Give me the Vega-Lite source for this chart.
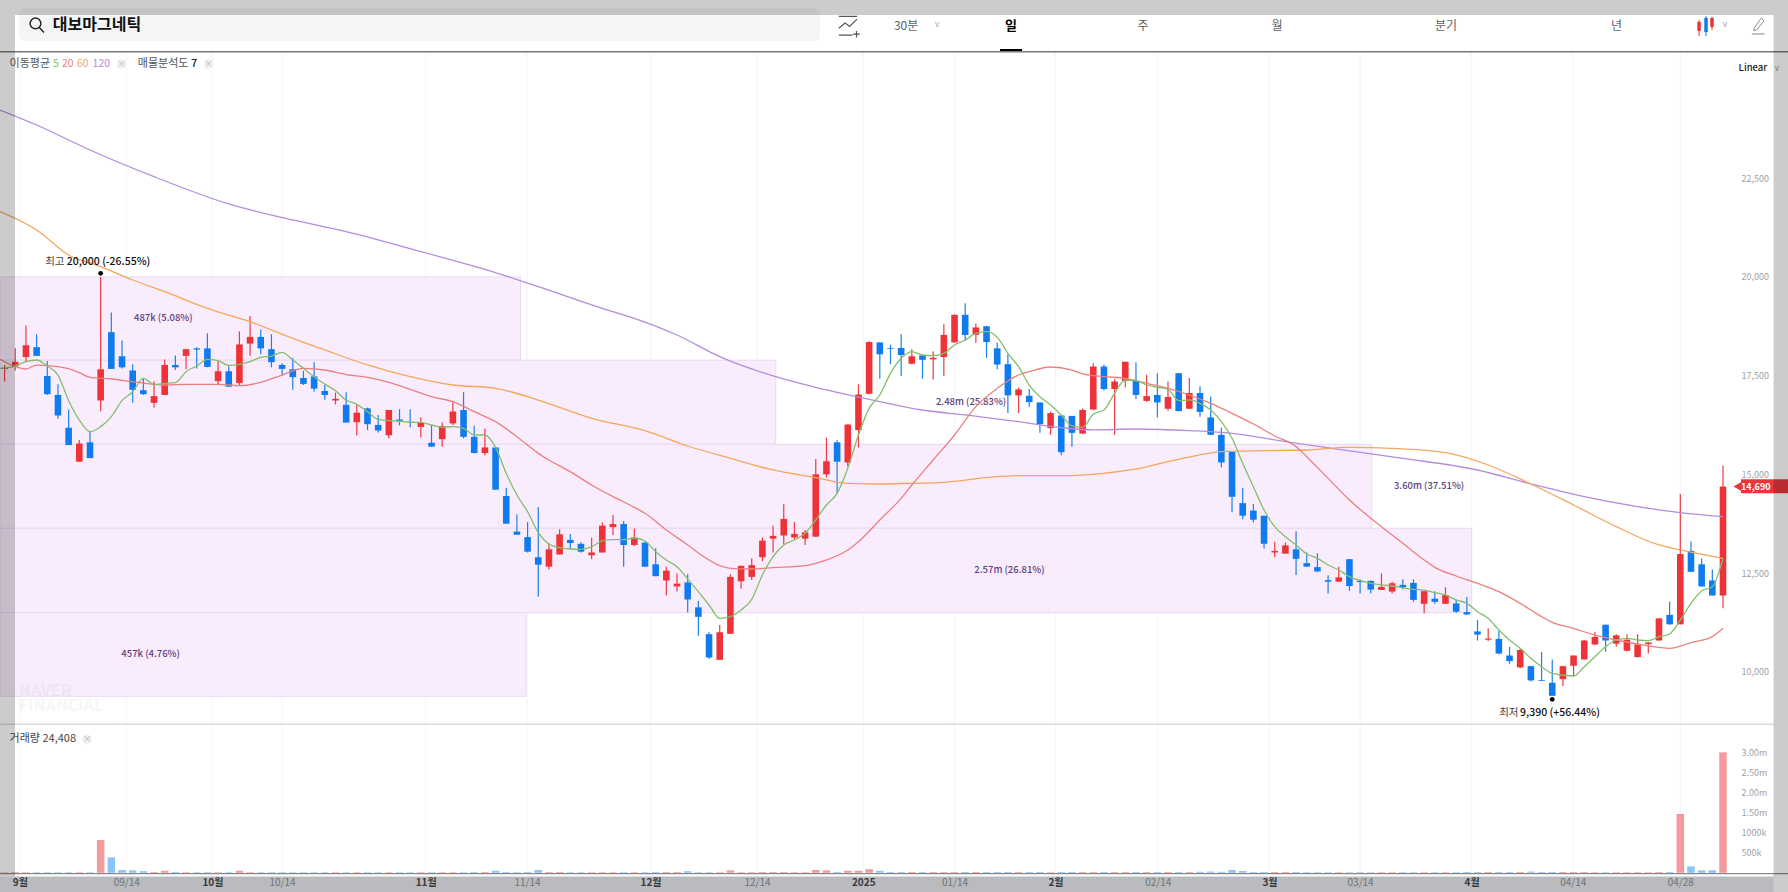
{
"$schema":"https://vega.github.io/schema/vega-lite/v6.json",
"width":1788,"height":892,"padding":0,"autosize":{"type":"none"},
"background":"#ffffff",
"config":{"font":"Noto Sans CJK KR","view":{"stroke":null}},
"datasets":{
"candles":[
{"i":0,"open":17670,"close":17700,"high":17770,"low":17350,"vol":15000},
{"i":1,"open":17730,"close":17850,"high":18190,"low":17630,"vol":20000},
{"i":2,"open":17970,"close":18270,"high":18770,"low":17850,"vol":15000},
{"i":3,"open":18220,"close":18000,"high":18550,"low":18000,"vol":15000},
{"i":4,"open":17490,"close":17030,"high":17870,"low":17010,"vol":15000},
{"i":5,"open":17010,"close":16490,"high":17280,"low":16410,"vol":15000},
{"i":6,"open":16180,"close":15740,"high":16640,"low":15740,"vol":15000},
{"i":7,"open":15320,"close":15780,"high":15870,"low":15320,"vol":15000},
{"i":8,"open":15810,"close":15410,"high":16080,"low":15410,"vol":15000},
{"i":9,"open":16870,"close":17660,"high":20000,"low":16600,"vol":817000},
{"i":10,"open":18600,"close":17670,"high":19100,"low":17670,"vol":385000},
{"i":11,"open":17990,"close":17710,"high":18390,"low":17680,"vol":70000},
{"i":12,"open":17630,"close":17140,"high":17790,"low":16810,"vol":60000},
{"i":13,"open":17130,"close":17030,"high":17430,"low":17010,"vol":40000},
{"i":14,"open":16810,"close":16980,"high":17360,"low":16690,"vol":20000},
{"i":15,"open":17010,"close":17770,"high":17910,"low":17010,"vol":50000},
{"i":16,"open":17770,"close":17710,"high":18010,"low":17640,"vol":20000},
{"i":17,"open":18000,"close":18170,"high":18170,"low":17660,"vol":15000},
{"i":18,"open":18190,"close":18160,"high":18220,"low":17680,"vol":15000},
{"i":19,"open":18190,"close":17720,"high":18570,"low":17710,"vol":15000},
{"i":20,"open":17360,"close":17610,"high":17870,"low":17290,"vol":15000},
{"i":21,"open":17610,"close":17220,"high":17740,"low":17220,"vol":15000},
{"i":22,"open":17310,"close":18290,"high":18620,"low":17250,"vol":50000},
{"i":23,"open":18310,"close":18480,"high":19010,"low":18000,"vol":15000},
{"i":24,"open":18480,"close":18190,"high":18670,"low":18040,"vol":15000},
{"i":25,"open":18170,"close":17840,"high":18550,"low":17710,"vol":15000},
{"i":26,"open":17770,"close":17670,"high":17810,"low":17500,"vol":15000},
{"i":27,"open":17660,"close":17460,"high":17950,"low":17140,"vol":15000},
{"i":28,"open":17440,"close":17290,"high":17620,"low":17260,"vol":15000},
{"i":29,"open":17480,"close":17170,"high":17840,"low":17090,"vol":15000},
{"i":30,"open":17110,"close":17010,"high":17260,"low":16890,"vol":15000},
{"i":31,"open":16870,"close":16910,"high":17070,"low":16770,"vol":15000},
{"i":32,"open":16760,"close":16310,"high":17080,"low":16310,"vol":15000},
{"i":33,"open":16320,"close":16560,"high":16770,"low":15980,"vol":15000},
{"i":34,"open":16670,"close":16270,"high":16690,"low":16120,"vol":15000},
{"i":35,"open":16250,"close":16110,"high":16500,"low":16060,"vol":15000},
{"i":36,"open":15990,"close":16630,"high":16630,"low":15910,"vol":15000},
{"i":37,"open":16390,"close":16340,"high":16650,"low":16240,"vol":15000},
{"i":38,"open":16330,"close":16310,"high":16650,"low":16190,"vol":15000},
{"i":39,"open":16200,"close":16300,"high":16440,"low":15930,"vol":15000},
{"i":40,"open":15800,"close":15700,"high":16250,"low":15700,"vol":15000},
{"i":41,"open":15890,"close":16220,"high":16320,"low":15700,"vol":15000},
{"i":42,"open":16290,"close":16590,"high":16840,"low":16250,"vol":15000},
{"i":43,"open":16630,"close":15950,"high":17080,"low":15910,"vol":15000},
{"i":44,"open":15950,"close":15540,"high":16230,"low":15530,"vol":20000},
{"i":45,"open":15540,"close":15680,"high":16160,"low":15480,"vol":20000},
{"i":46,"open":15680,"close":14610,"high":15680,"low":14610,"vol":50000},
{"i":47,"open":14450,"close":13750,"high":14650,"low":13750,"vol":20000},
{"i":48,"open":13550,"close":13470,"high":13990,"low":13470,"vol":15000},
{"i":49,"open":13410,"close":13040,"high":13790,"low":13020,"vol":20000},
{"i":50,"open":12900,"close":12710,"high":14170,"low":11900,"vol":70000},
{"i":51,"open":12660,"close":13100,"high":13250,"low":12590,"vol":20000},
{"i":52,"open":12970,"close":13480,"high":13610,"low":12970,"vol":20000},
{"i":53,"open":13340,"close":13260,"high":13490,"low":13110,"vol":15000},
{"i":54,"open":13240,"close":13040,"high":13280,"low":13020,"vol":15000},
{"i":55,"open":12950,"close":13020,"high":13390,"low":12850,"vol":15000},
{"i":56,"open":13020,"close":13700,"high":13780,"low":13020,"vol":15000},
{"i":57,"open":13660,"close":13740,"high":13970,"low":13460,"vol":15000},
{"i":58,"open":13740,"close":13210,"high":13820,"low":12660,"vol":15000},
{"i":59,"open":13210,"close":13400,"high":13630,"low":13180,"vol":15000},
{"i":60,"open":13270,"close":12660,"high":13280,"low":12660,"vol":15000},
{"i":61,"open":12720,"close":12420,"high":13130,"low":12420,"vol":20000},
{"i":62,"open":12310,"close":12560,"high":12660,"low":11930,"vol":20000},
{"i":63,"open":12160,"close":12230,"high":12490,"low":12030,"vol":20000},
{"i":64,"open":12260,"close":11830,"high":12470,"low":11500,"vol":40000},
{"i":65,"open":11630,"close":11390,"high":11790,"low":10910,"vol":15000},
{"i":66,"open":10950,"close":10360,"high":11000,"low":10320,"vol":15000},
{"i":67,"open":10300,"close":11000,"high":11180,"low":10300,"vol":15000},
{"i":68,"open":10960,"close":12400,"high":12470,"low":10960,"vol":60000},
{"i":69,"open":12290,"close":12680,"high":12690,"low":12100,"vol":15000},
{"i":70,"open":12400,"close":12700,"high":12870,"low":12320,"vol":15000},
{"i":71,"open":12900,"close":13320,"high":13400,"low":12800,"vol":20000},
{"i":72,"open":13370,"close":13440,"high":13700,"low":13020,"vol":20000},
{"i":73,"open":13450,"close":13870,"high":14240,"low":13230,"vol":20000},
{"i":74,"open":13400,"close":13490,"high":13790,"low":13350,"vol":15000},
{"i":75,"open":13370,"close":13530,"high":13590,"low":13210,"vol":15000},
{"i":76,"open":13420,"close":15000,"high":15390,"low":13420,"vol":70000},
{"i":77,"open":15000,"close":15330,"high":15930,"low":14920,"vol":60000},
{"i":78,"open":15810,"close":15320,"high":15860,"low":14520,"vol":20000},
{"i":79,"open":15300,"close":16260,"high":16280,"low":15190,"vol":50000},
{"i":80,"open":16120,"close":17020,"high":17280,"low":15680,"vol":50000},
{"i":81,"open":17040,"close":18350,"high":18370,"low":17030,"vol":90000},
{"i":82,"open":18340,"close":18040,"high":18350,"low":17420,"vol":50000},
{"i":83,"open":18200,"close":18180,"high":18280,"low":17790,"vol":20000},
{"i":84,"open":18200,"close":18020,"high":18550,"low":17490,"vol":20000},
{"i":85,"open":17800,"close":17990,"high":18170,"low":17790,"vol":20000},
{"i":86,"open":18010,"close":17900,"high":18020,"low":17420,"vol":20000},
{"i":87,"open":17910,"close":17950,"high":18120,"low":17400,"vol":20000},
{"i":88,"open":17970,"close":18530,"high":18800,"low":17490,"vol":20000},
{"i":89,"open":18340,"close":19040,"high":19050,"low":18340,"vol":20000},
{"i":90,"open":19040,"close":18530,"high":19330,"low":18380,"vol":20000},
{"i":91,"open":18530,"close":18720,"high":18820,"low":18330,"vol":20000},
{"i":92,"open":18750,"close":18350,"high":18760,"low":17950,"vol":20000},
{"i":93,"open":18190,"close":17780,"high":18340,"low":17660,"vol":20000},
{"i":94,"open":17790,"close":17000,"high":18040,"low":16550,"vol":20000},
{"i":95,"open":17000,"close":17150,"high":17200,"low":16550,"vol":20000},
{"i":96,"open":16990,"close":16830,"high":17160,"low":16710,"vol":20000},
{"i":97,"open":16820,"close":16270,"high":16820,"low":16050,"vol":20000},
{"i":98,"open":16170,"close":16550,"high":16590,"low":16000,"vol":15000},
{"i":99,"open":16490,"close":15560,"high":16490,"low":15480,"vol":20000},
{"i":100,"open":16480,"close":16050,"high":16480,"low":15700,"vol":20000},
{"i":101,"open":16030,"close":16630,"high":16670,"low":16030,"vol":20000},
{"i":102,"open":16640,"close":17730,"high":17810,"low":16640,"vol":20000},
{"i":103,"open":17730,"close":17160,"high":17780,"low":17120,"vol":20000},
{"i":104,"open":17160,"close":17350,"high":17410,"low":16000,"vol":20000},
{"i":105,"open":17360,"close":17850,"high":17850,"low":17200,"vol":20000},
{"i":106,"open":17370,"close":17010,"high":17840,"low":16910,"vol":20000},
{"i":107,"open":16860,"close":16980,"high":17520,"low":16840,"vol":20000},
{"i":108,"open":17010,"close":16820,"high":17560,"low":16440,"vol":20000},
{"i":109,"open":16660,"close":16960,"high":17350,"low":16610,"vol":20000},
{"i":110,"open":17560,"close":16600,"high":17560,"low":16600,"vol":20000},
{"i":111,"open":16660,"close":17060,"high":17440,"low":16660,"vol":20000},
{"i":112,"open":17060,"close":16580,"high":17230,"low":16460,"vol":25000},
{"i":113,"open":16440,"close":16000,"high":16970,"low":16000,"vol":30000},
{"i":114,"open":16000,"close":15300,"high":16180,"low":15180,"vol":25000},
{"i":115,"open":15570,"close":14430,"high":15570,"low":14040,"vol":70000},
{"i":116,"open":14270,"close":13950,"high":14650,"low":13860,"vol":45000},
{"i":117,"open":14080,"close":13850,"high":14250,"low":13780,"vol":20000},
{"i":118,"open":13950,"close":13240,"high":13950,"low":13120,"vol":20000},
{"i":119,"open":13020,"close":13060,"high":13290,"low":12900,"vol":20000},
{"i":120,"open":12990,"close":13200,"high":13270,"low":12990,"vol":20000},
{"i":121,"open":13100,"close":12860,"high":13560,"low":12450,"vol":20000},
{"i":122,"open":12750,"close":12660,"high":13020,"low":12660,"vol":15000},
{"i":123,"open":12650,"close":12540,"high":13000,"low":12520,"vol":15000},
{"i":124,"open":12320,"close":12280,"high":12440,"low":11980,"vol":15000},
{"i":125,"open":12280,"close":12390,"high":12660,"low":12280,"vol":15000},
{"i":126,"open":12850,"close":12170,"high":12850,"low":12050,"vol":15000},
{"i":127,"open":12300,"close":12270,"high":12340,"low":11980,"vol":15000},
{"i":128,"open":12300,"close":12080,"high":12310,"low":11980,"vol":15000},
{"i":129,"open":12070,"close":12150,"high":12490,"low":12070,"vol":15000},
{"i":130,"open":12030,"close":12240,"high":12280,"low":11980,"vol":15000},
{"i":131,"open":12200,"close":12140,"high":12340,"low":12090,"vol":15000},
{"i":132,"open":12250,"close":11820,"high":12340,"low":11770,"vol":15000},
{"i":133,"open":11720,"close":12040,"high":12040,"low":11480,"vol":15000},
{"i":134,"open":11850,"close":11770,"high":12040,"low":11720,"vol":15000},
{"i":135,"open":11720,"close":11940,"high":12140,"low":11720,"vol":15000},
{"i":136,"open":11730,"close":11520,"high":11830,"low":11490,"vol":15000},
{"i":137,"open":11510,"close":11450,"high":11890,"low":11440,"vol":20000},
{"i":138,"open":11020,"close":10940,"high":11310,"low":10790,"vol":20000},
{"i":139,"open":10810,"close":10840,"high":11100,"low":10780,"vol":20000},
{"i":140,"open":10830,"close":10460,"high":11040,"low":10440,"vol":20000},
{"i":141,"open":10410,"close":10270,"high":10630,"low":10200,"vol":20000},
{"i":142,"open":10110,"close":10550,"high":10590,"low":10090,"vol":20000},
{"i":143,"open":10140,"close":9780,"high":10150,"low":9750,"vol":30000},
{"i":144,"open":9790,"close":9770,"high":10500,"low":9770,"vol":20000},
{"i":145,"open":9720,"close":9390,"high":10310,"low":9390,"vol":20000},
{"i":146,"open":9810,"close":10140,"high":10150,"low":9640,"vol":20000},
{"i":147,"open":10150,"close":10410,"high":10410,"low":9890,"vol":20000},
{"i":148,"open":10310,"close":10790,"high":10800,"low":10310,"vol":20000},
{"i":149,"open":10690,"close":10880,"high":11010,"low":10670,"vol":15000},
{"i":150,"open":11190,"close":10790,"high":11190,"low":10510,"vol":15000},
{"i":151,"open":10710,"close":10920,"high":10950,"low":10630,"vol":15000},
{"i":152,"open":10530,"close":10810,"high":10950,"low":10520,"vol":15000},
{"i":153,"open":10370,"close":10690,"high":10950,"low":10360,"vol":15000},
{"i":154,"open":10700,"close":10740,"high":10740,"low":10460,"vol":15000},
{"i":155,"open":10790,"close":11350,"high":11360,"low":10790,"vol":20000},
{"i":156,"open":11440,"close":11200,"high":11780,"low":11190,"vol":20000},
{"i":157,"open":11200,"close":12980,"high":14500,"low":11200,"vol":1464000},
{"i":158,"open":13060,"close":12530,"high":13300,"low":12530,"vol":161000},
{"i":159,"open":12720,"close":12160,"high":12870,"low":12160,"vol":62000},
{"i":160,"open":12310,"close":11930,"high":12590,"low":11930,"vol":62000},
{"i":161,"open":11930,"close":14690,"high":15220,"low":11610,"vol":3000000}
],
"ma":[
{"i":-0.43,"ma":"120","p":24228},{"i":3,"ma":"120","p":23848},{"i":8,"ma":"120","p":23215},{"i":14,"ma":"120","p":22539},{"i":21,"ma":"120","p":21847},{"i":27,"ma":"120","p":21442},{"i":32,"ma":"120","p":21146},{"i":39,"ma":"120","p":20640},{"i":45,"ma":"120","p":20192},{"i":50,"ma":"120","p":19753},{"i":56,"ma":"120","p":19204},{"i":59,"ma":"120","p":18951},{"i":63,"ma":"120","p":18529},{"i":67,"ma":"120","p":17980},{"i":72,"ma":"120","p":17491},{"i":77,"ma":"120","p":17136},{"i":82,"ma":"120","p":16840},{"i":86,"ma":"120","p":16629},{"i":90,"ma":"120","p":16503},{"i":95,"ma":"120","p":16334},{"i":99,"ma":"120","p":16182},{"i":102,"ma":"120","p":16123},{"i":106,"ma":"120","p":16148},{"i":111,"ma":"120","p":16106},{"i":115,"ma":"120","p":16038},{"i":120,"ma":"120","p":15827},{"i":125,"ma":"120","p":15633},{"i":131,"ma":"120","p":15405},{"i":138,"ma":"120","p":15109},{"i":143,"ma":"120","p":14755},{"i":148,"ma":"120","p":14434},{"i":153,"ma":"120","p":14181},{"i":157,"ma":"120","p":14029},{"i":161,"ma":"120","p":13927},
{"i":-0.43,"ma":"60","p":21653},{"i":3,"ma":"60","p":21188},{"i":6,"ma":"60","p":20555},{"i":9,"ma":"60","p":20260},{"i":12,"ma":"60","p":19922},{"i":15,"ma":"60","p":19626},{"i":19,"ma":"60","p":19204},{"i":23,"ma":"60","p":18866},{"i":27,"ma":"60","p":18444},{"i":30,"ma":"60","p":18149},{"i":34,"ma":"60","p":17769},{"i":38,"ma":"60","p":17473},{"i":42,"ma":"60","p":17262},{"i":46,"ma":"60","p":17178},{"i":50,"ma":"60","p":16882},{"i":55,"ma":"60","p":16418},{"i":60,"ma":"60","p":16106},{"i":64,"ma":"60","p":15717},{"i":68,"ma":"60","p":15405},{"i":72,"ma":"60","p":15110},{"i":76,"ma":"60","p":14915},{"i":79,"ma":"60","p":14772},{"i":82,"ma":"60","p":14755},{"i":85,"ma":"60","p":14772},{"i":88,"ma":"60","p":14797},{"i":92,"ma":"60","p":14915},{"i":95,"ma":"60","p":14966},{"i":99,"ma":"60","p":14966},{"i":103,"ma":"60","p":15025},{"i":106,"ma":"60","p":15135},{"i":109,"ma":"60","p":15321},{"i":112,"ma":"60","p":15490},{"i":114,"ma":"60","p":15574},{"i":118,"ma":"60","p":15599},{"i":122,"ma":"60","p":15616},{"i":126,"ma":"60","p":15684},{"i":130,"ma":"60","p":15658},{"i":135,"ma":"60","p":15548},{"i":139,"ma":"60","p":15236},{"i":143,"ma":"60","p":14755},{"i":147,"ma":"60","p":14223},{"i":151,"ma":"60","p":13674},{"i":155,"ma":"60","p":13210},{"i":157,"ma":"60","p":13083},{"i":161,"ma":"60","p":12872},
{"i":-0.43,"ma":"20","p":17912},{"i":1,"ma":"20","p":17726},{"i":2,"ma":"20","p":17667},{"i":3,"ma":"20","p":17768},{"i":5,"ma":"20","p":17726},{"i":6,"ma":"20","p":17676},{"i":7,"ma":"20","p":17574},{"i":8,"ma":"20","p":17456},{"i":10,"ma":"20","p":17414},{"i":12,"ma":"20","p":17346},{"i":15,"ma":"20","p":17262},{"i":17,"ma":"20","p":17279},{"i":20,"ma":"20","p":17279},{"i":22,"ma":"20","p":17245},{"i":24,"ma":"20","p":17329},{"i":26,"ma":"20","p":17515},{"i":28,"ma":"20","p":17684},{"i":30,"ma":"20","p":17642},{"i":32,"ma":"20","p":17525},{"i":34,"ma":"20","p":17456},{"i":36,"ma":"20","p":17330},{"i":38,"ma":"20","p":17152},{"i":40,"ma":"20","p":16967},{"i":42,"ma":"20","p":16840},{"i":44,"ma":"20","p":16587},{"i":46,"ma":"20","p":16333},{"i":48,"ma":"20","p":15953},{"i":50,"ma":"20","p":15531},{"i":51,"ma":"20","p":15362},{"i":53,"ma":"20","p":15067},{"i":55,"ma":"20","p":14729},{"i":57,"ma":"20","p":14434},{"i":59,"ma":"20","p":14163},{"i":60,"ma":"20","p":14012},{"i":62,"ma":"20","p":13589},{"i":64,"ma":"20","p":13209},{"i":65,"ma":"20","p":13007},{"i":66,"ma":"20","p":12830},{"i":67,"ma":"20","p":12686},{"i":68,"ma":"20","p":12619},{"i":70,"ma":"20","p":12602},{"i":72,"ma":"20","p":12636},{"i":75,"ma":"20","p":12686},{"i":77,"ma":"20","p":12830},{"i":79,"ma":"20","p":13083},{"i":80,"ma":"20","p":13294},{"i":82,"ma":"20","p":13843},{"i":84,"ma":"20","p":14392},{"i":85,"ma":"20","p":14729},{"i":87,"ma":"20","p":15363},{"i":89,"ma":"20","p":15996},{"i":91,"ma":"20","p":16714},{"i":93,"ma":"20","p":17178},{"i":95,"ma":"20","p":17516},{"i":96,"ma":"20","p":17600},{"i":98,"ma":"20","p":17718},{"i":100,"ma":"20","p":17642},{"i":101,"ma":"20","p":17541},{"i":103,"ma":"20","p":17474},{"i":105,"ma":"20","p":17431},{"i":107,"ma":"20","p":17305},{"i":109,"ma":"20","p":17178},{"i":111,"ma":"20","p":17009},{"i":113,"ma":"20","p":16798},{"i":115,"ma":"20","p":16545},{"i":117,"ma":"20","p":16275},{"i":119,"ma":"20","p":15971},{"i":121,"ma":"20","p":15701},{"i":122,"ma":"20","p":15447},{"i":124,"ma":"20","p":14898},{"i":126,"ma":"20","p":14350},{"i":128,"ma":"20","p":13885},{"i":130,"ma":"20","p":13463},{"i":131,"ma":"20","p":13251},{"i":133,"ma":"20","p":12829},{"i":134,"ma":"20","p":12643},{"i":136,"ma":"20","p":12424},{"i":138,"ma":"20","p":12238},{"i":140,"ma":"20","p":12027},{"i":142,"ma":"20","p":11732},{"i":144,"ma":"20","p":11394},{"i":145,"ma":"20","p":11250},{"i":147,"ma":"20","p":11098},{"i":149,"ma":"20","p":10929},{"i":151,"ma":"20","p":10803},{"i":153,"ma":"20","p":10702},{"i":155,"ma":"20","p":10617},{"i":156,"ma":"20","p":10592},{"i":158,"ma":"20","p":10735},{"i":160,"ma":"20","p":10887},{"i":161,"ma":"20","p":11098},
{"i":-0.43,"ma":"5","p":17684},{"i":1,"ma":"5","p":17743},{"i":2,"ma":"5","p":17853},{"i":3,"ma":"5","p":17895},{"i":4,"ma":"5","p":17743},{"i":5,"ma":"5","p":17515},{"i":6,"ma":"5","p":16865},{"i":7,"ma":"5","p":16375},{"i":8,"ma":"5","p":16080},{"i":9,"ma":"5","p":16207},{"i":10,"ma":"5","p":16460},{"i":11,"ma":"5","p":16865},{"i":12,"ma":"5","p":17093},{"i":13,"ma":"5","p":17431},{"i":14,"ma":"5","p":17279},{"i":15,"ma":"5","p":17304},{"i":16,"ma":"5","p":17321},{"i":17,"ma":"5","p":17600},{"i":18,"ma":"5","p":17743},{"i":19,"ma":"5","p":17912},{"i":20,"ma":"5","p":17878},{"i":21,"ma":"5","p":17760},{"i":22,"ma":"5","p":17785},{"i":23,"ma":"5","p":17853},{"i":24,"ma":"5","p":17963},{"i":25,"ma":"5","p":17996},{"i":26,"ma":"5","p":18089},{"i":27,"ma":"5","p":17895},{"i":28,"ma":"5","p":17684},{"i":29,"ma":"5","p":17473},{"i":30,"ma":"5","p":17287},{"i":31,"ma":"5","p":17118},{"i":32,"ma":"5","p":16882},{"i":33,"ma":"5","p":16772},{"i":34,"ma":"5","p":16587},{"i":35,"ma":"5","p":16392},{"i":36,"ma":"5","p":16359},{"i":37,"ma":"5","p":16350},{"i":38,"ma":"5","p":16316},{"i":39,"ma":"5","p":16316},{"i":40,"ma":"5","p":16249},{"i":41,"ma":"5","p":16190},{"i":42,"ma":"5","p":16207},{"i":43,"ma":"5","p":16164},{"i":44,"ma":"5","p":15996},{"i":45,"ma":"5","p":15996},{"i":46,"ma":"5","p":15683},{"i":47,"ma":"5","p":15025},{"i":48,"ma":"5","p":14476},{"i":49,"ma":"5","p":14054},{"i":50,"ma":"5","p":13522},{"i":51,"ma":"5","p":13235},{"i":52,"ma":"5","p":13142},{"i":53,"ma":"5","p":13108},{"i":54,"ma":"5","p":13100},{"i":55,"ma":"5","p":13167},{"i":56,"ma":"5","p":13311},{"i":57,"ma":"5","p":13344},{"i":58,"ma":"5","p":13344},{"i":59,"ma":"5","p":13387},{"i":60,"ma":"5","p":13311},{"i":61,"ma":"5","p":13040},{"i":62,"ma":"5","p":12829},{"i":63,"ma":"5","p":12661},{"i":64,"ma":"5","p":12348},{"i":65,"ma":"5","p":12027},{"i":66,"ma":"5","p":11690},{"i":67,"ma":"5","p":11352},{"i":68,"ma":"5","p":11394},{"i":69,"ma":"5","p":11563},{"i":70,"ma":"5","p":11834},{"i":71,"ma":"5","p":12450},{"i":72,"ma":"5","p":12914},{"i":73,"ma":"5","p":13210},{"i":74,"ma":"5","p":13336},{"i":75,"ma":"5","p":13505},{"i":76,"ma":"5","p":13843},{"i":77,"ma":"5","p":14223},{"i":78,"ma":"5","p":14518},{"i":79,"ma":"5","p":15152},{"i":80,"ma":"5","p":15996},{"i":81,"ma":"5","p":16671},{"i":82,"ma":"5","p":17009},{"i":83,"ma":"5","p":17558},{"i":84,"ma":"5","p":17938},{"i":85,"ma":"5","p":18107},{"i":86,"ma":"5","p":18022},{"i":87,"ma":"5","p":18005},{"i":88,"ma":"5","p":18064},{"i":89,"ma":"5","p":18276},{"i":90,"ma":"5","p":18402},{"i":91,"ma":"5","p":18571},{"i":92,"ma":"5","p":18613},{"i":93,"ma":"5","p":18470},{"i":94,"ma":"5","p":18064},{"i":95,"ma":"5","p":17727},{"i":96,"ma":"5","p":17262},{"i":97,"ma":"5","p":16967},{"i":98,"ma":"5","p":16756},{"i":99,"ma":"5","p":16503},{"i":100,"ma":"5","p":16224},{"i":101,"ma":"5","p":16190},{"i":102,"ma":"5","p":16520},{"i":103,"ma":"5","p":16629},{"i":104,"ma":"5","p":17051},{"i":105,"ma":"5","p":17389},{"i":106,"ma":"5","p":17372},{"i":107,"ma":"5","p":17262},{"i":108,"ma":"5","p":17203},{"i":109,"ma":"5","p":17153},{"i":110,"ma":"5","p":16866},{"i":111,"ma":"5","p":16883},{"i":112,"ma":"5","p":16798},{"i":113,"ma":"5","p":16629},{"i":114,"ma":"5","p":16334},{"i":115,"ma":"5","p":15912},{"i":116,"ma":"5","p":15278},{"i":117,"ma":"5","p":14687},{"i":118,"ma":"5","p":14096},{"i":119,"ma":"5","p":13674},{"i":120,"ma":"5","p":13421},{"i":121,"ma":"5","p":13210},{"i":122,"ma":"5","p":12982},{"i":123,"ma":"5","p":12872},{"i":124,"ma":"5","p":12703},{"i":125,"ma":"5","p":12577},{"i":126,"ma":"5","p":12408},{"i":127,"ma":"5","p":12306},{"i":128,"ma":"5","p":12239},{"i":129,"ma":"5","p":12197},{"i":130,"ma":"5","p":12171},{"i":132,"ma":"5","p":12086},{"i":133,"ma":"5","p":12069},{"i":134,"ma":"5","p":12002},{"i":135,"ma":"5","p":11943},{"i":136,"ma":"5","p":11816},{"i":137,"ma":"5","p":11732},{"i":138,"ma":"5","p":11520},{"i":139,"ma":"5","p":11352},{"i":140,"ma":"5","p":11056},{"i":141,"ma":"5","p":10803},{"i":142,"ma":"5","p":10592},{"i":143,"ma":"5","p":10338},{"i":144,"ma":"5","p":10127},{"i":145,"ma":"5","p":9958},{"i":146,"ma":"5","p":9916},{"i":147,"ma":"5","p":9891},{"i":148,"ma":"5","p":10127},{"i":149,"ma":"5","p":10381},{"i":150,"ma":"5","p":10634},{"i":151,"ma":"5","p":10803},{"i":152,"ma":"5","p":10845},{"i":153,"ma":"5","p":10803},{"i":154,"ma":"5","p":10786},{"i":155,"ma":"5","p":10887},{"i":156,"ma":"5","p":10955},{"i":157,"ma":"5","p":11309},{"i":158,"ma":"5","p":11732},{"i":159,"ma":"5","p":12044},{"i":160,"ma":"5","p":12154},{"i":161,"ma":"5","p":12871}
],
"profile":[
{"i":-0.431,"i2":48.34,"p":20000,"p2":17890},
{"i":-0.431,"i2":72.25,"p":17890,"p2":15760},
{"i":-0.431,"i2":128.09,"p":15760,"p2":13632},
{"i":-0.431,"i2":137.45,"p":13632,"p2":11495},
{"i":-0.431,"i2":48.87,"p":11495,"p2":9377}
],
"profileLabels":[
{"i":14.87,"p":18951,"label":"487k (5.08%)"},
{"i":90.55,"p":16824,"label":"2.48m (25.83%)"},
{"i":133.46,"p":14696,"label":"3.60m (37.51%)"},
{"i":94.15,"p":12568,"label":"2.57m (26.81%)"},
{"i":13.68,"p":10448,"label":"457k (4.76%)"}
],
"ticks":[{"i":1.43},{"i":11.4},{"i":19.47},{"i":25.99},{"i":39.45},{"i":48.95},{"i":60.52},{"i":70.5},{"i":80.45},{"i":89},{"i":98.46},{"i":108.04},{"i":118.51},{"i":127},{"i":137.45},{"i":146.93},{"i":157}],
"extremes":[{"i":9,"p":20090},{"i":145,"p":9301}],
"panels":[
{"part":"toolbar","i":-0.431,"i2":167.09,"p":27014,"p2":25723},
{"part":"strip","i":-0.431,"i2":165.74,"p":4812,"p2":4420},
{"part":"tag","i":162.69,"i2":167.09,"p":14873,"p2":14519},
{"part":"underline","i":93.26,"i2":95.32,"p":25773,"p2":25705}
],
"shades":[
{"i":-0.431,"i2":167.09,"p":27014,"p2":26634},
{"i":-0.431,"i2":0.974,"p":26634,"p2":4812},
{"i":165.74,"i2":167.09,"p":26634,"p2":4420}
],
"lines":[
{"part":"header","i":-0.431,"i2":167.09,"p":25705},
{"part":"separator","i":-0.431,"i2":165.74,"p":8668},
{"part":"baseline","i":-0.431,"i2":167.09,"p":4886}
],
"labels":[
{"role":"menu","i":84.46,"p":26356,"label":"30분"},
{"role":"menu","i":106.66,"p":26356,"label":"주"},
{"role":"menu","i":119.22,"p":26356,"label":"월"},
{"role":"menu","i":135.05,"p":26356,"label":"분기"},
{"role":"menu","i":151.03,"p":26356,"label":"년"},
{"role":"active","i":94.29,"p":26356,"label":"일"},
{"role":"title","i":4.52,"p":26381,"label":"대보마그네틱"},
{"role":"chevron","i":87.36,"p":26380,"label":"v"},
{"role":"chevron","i":161.2,"p":26380,"label":"v"},
{"role":"chevron","i":166.06,"p":25270,"label":"v"},
{"role":"scale","i":163.8,"p":25284,"label":"Linear"},
{"role":"legend","i":0.47,"p":25393,"label":"이동평균"},
{"role":"legend","i":12.48,"p":25393,"label":"매물분석도"},
{"role":"legendDark","i":17.46,"p":25393,"label":"7"},
{"role":"legendMix","i":0.47,"p":8288,"label":"거래량 24,408"},
{"role":"tagText","i":162.69,"p":14690,"label":"14,690"},
{"role":"marker","i":5.61,"p":20386,"label":"최고"},
{"role":"markerValue","i":5.82,"p":20386,"label":"20,000 (-26.55%)"},
{"role":"marker","i":141.84,"p":8954,"label":"최저"},
{"role":"markerValue","i":141.99,"p":8954,"label":"9,390 (+56.44%)"},
{"role":"mark","i":1.35,"p":9511,"label":"NAVER"},
{"role":"mark","i":1.35,"p":9131,"label":"FINANCIAL"}
],
"maLegend":[
{"i":4.53,"p":25393,"label":"5"},
{"i":5.38,"p":25393,"label":"20"},
{"i":6.78,"p":25393,"label":"60"},
{"i":8.24,"p":25393,"label":"120"}
],
"closeButtons":[{"i":10.97,"p":25393},{"i":19.11,"p":25393},{"i":7.71,"p":8288}],
"iconCandles":[
{"i":158.76,"open":26230,"close":26460,"high":26510,"low":26100},
{"i":159.41,"open":26560,"close":26200,"high":26610,"low":26100},
{"i":159.97,"open":26330,"close":26560,"high":26590,"low":26250}
]
},
"encoding":{
"x":{"field":"i","type":"quantitative","scale":{"domain":[-0.431,167.09],"nice":false,"zero":false,"padding":0},
"axis":{"title":null,"orient":"bottom","offset":-17,"zindex":1,"domain":false,"ticks":false,"grid":false,"labelPadding":2,"labelFontSize":10,"labelAngle":0,"labelBound":false,"labelFlush":false,"labelOverlap":false,
"values":[1.43,11.4,19.47,25.99,39.45,48.95,60.52,70.5,80.45,89,98.46,108.04,118.51,127,137.45,146.93,157],
"labelExpr":"{'1.43':'9월','11.4':'09/14','19.47':'10월','25.99':'10/14','39.45':'11월','48.95':'11/14','60.52':'12월','70.5':'12/14','80.45':'2025','89':'01/14','98.46':'2월','108.04':'02/14','118.51':'3월','127':'03/14','137.45':'4월','146.93':'04/14','157':'04/28'}[datum.value]",
"labelFontWeight":{"condition":{"test":"indexof([1.43,19.47,39.45,60.52,80.45,98.46,118.51,137.45],datum.value)>=0","value":700},"value":400},
"labelColor":{"condition":{"test":"indexof([1.43,19.47,39.45,60.52,80.45,98.46,118.51,137.45],datum.value)>=0","value":"#3a3a3a"},"value":"#6f7276"}}}
},
"layer":[
{"layer":[
{"data":{"name":"ticks"},"mark":{"type":"rule","color":"#f3f4f7","strokeWidth":1},
"encoding":{"y":{"datum":25705,"type":"quantitative","scale":{"domain":[4420,27014],"nice":false,"zero":false},
"axis":{"title":null,"orient":"right","offset":-47,"zindex":1,"domain":false,"ticks":false,"grid":false,"labelPadding":0,"labelFontSize":9,"labelColor":"#9ca1a8","labelExpr":"format(datum.value,',')","values":[10000,12500,15000,17500,20000,22500]}},"y2":{"datum":4886}}},
{"data":{"name":"profile"},"mark":{"type":"rect","fill":"#f9ecfd","stroke":"#ead9f2","strokeWidth":1},
"encoding":{"x2":{"field":"i2"},"y":{"field":"p","type":"quantitative","scale":{"domain":[4420,27014],"nice":false,"zero":false}},"y2":{"field":"p2"}}},
{"data":{"name":"profileLabels"},"mark":{"type":"text","align":"center","baseline":"middle","fontSize":9.5,"fontWeight":500,"color":"#5d3f7c"},
"encoding":{"y":{"field":"p","type":"quantitative","scale":{"domain":[4420,27014],"nice":false,"zero":false}},"text":{"field":"label"}}},
{"data":{"name":"candles"},"mark":{"type":"rule","strokeWidth":1.2},
"encoding":{"y":{"field":"high","type":"quantitative","scale":{"domain":[4420,27014],"nice":false,"zero":false}},"y2":{"field":"low"},
"color":{"condition":{"test":"datum.close>=datum.open","value":"#ee3a40"},"value":"#1a80ee"}}},
{"data":{"name":"candles"},"mark":{"type":"bar","width":6.6},
"encoding":{"y":{"field":"open","type":"quantitative","scale":{"domain":[4420,27014],"nice":false,"zero":false}},"y2":{"field":"close"},
"color":{"condition":{"test":"datum.close>=datum.open","value":"#ee3338"},"value":"#0f7bee"}}},
{"data":{"name":"ma"},"mark":{"type":"line","strokeWidth":1.3,"interpolate":"monotone"},
"encoding":{"y":{"field":"p","type":"quantitative","scale":{"domain":[4420,27014],"nice":false,"zero":false}},
"order":{"field":"i"},
"color":{"field":"ma","type":"nominal","legend":null,"scale":{"domain":["120","60","20","5","toolbar","strip","tag","underline","header","separator","baseline"],"range":["#b48cdc","#f3a75c","#ec7f7f","#82bf6c","#ffffff","#b9bbbf","#e8363b","#000000","#777777","#d8dbe3","#8a8a8a"]}}}},
{"data":{"name":"extremes"},"mark":{"type":"circle","size":22,"color":"#000000","opacity":1},
"encoding":{"y":{"field":"p","type":"quantitative","scale":{"domain":[4420,27014],"nice":false,"zero":false}}}}
]},
{"data":{"name":"candles"},"mark":{"type":"bar","width":7.5},
"encoding":{"y":{"field":"vol","type":"quantitative","stack":null,"scale":{"domain":[-478080,21732720],"nice":false,"zero":false},
"axis":{"title":null,"orient":"right","offset":-47,"zindex":1,"domain":false,"ticks":false,"grid":false,"labelPadding":0,"labelFontSize":9,"labelColor":"#9ca1a8","values":[500000,1000000,1500000,2000000,2500000,3000000],
"labelExpr":"datum.value>=1500000?format(datum.value/1000000,'.2f')+'m':(datum.value/1000)+'k'"}},
"y2":{"datum":0},
"color":{"condition":{"test":"datum.close>=datum.open","value":"#f59a9c"},"value":"#8cc4f7"}}},
{"layer":[
{"data":{"name":"panels"},"mark":{"type":"rect"},
"encoding":{"x2":{"field":"i2"},"y":{"field":"p","type":"quantitative","axis":null,"scale":{"domain":[4420,27014],"nice":false,"zero":false}},"y2":{"field":"p2"},
"color":{"field":"part","type":"nominal","legend":null,"scale":{"domain":["120","60","20","5","toolbar","strip","tag","underline","header","separator","baseline"],"range":["#b48cdc","#f3a75c","#ec7f7f","#82bf6c","#ffffff","#b9bbbf","#e8363b","#000000","#777777","#d8dbe3","#8a8a8a"]}}}},
{"data":{"values":[{"i":1.35,"i2":76.4,"p":26811,"p2":25974}]},"mark":{"type":"rect","color":"#f3f5f7","cornerRadius":6},
"encoding":{"x2":{"field":"i2"},"y":{"field":"p","type":"quantitative","axis":null,"scale":{"domain":[4420,27014],"nice":false,"zero":false}},"y2":{"field":"p2"}}},
{"data":{"name":"lines"},"mark":{"type":"rule","strokeWidth":1.4},
"encoding":{"x2":{"field":"i2"},"y":{"field":"p","type":"quantitative","axis":null,"scale":{"domain":[4420,27014],"nice":false,"zero":false}},
"color":{"field":"part","type":"nominal","legend":null,"scale":{"domain":["120","60","20","5","toolbar","strip","tag","underline","header","separator","baseline"],"range":["#b48cdc","#f3a75c","#ec7f7f","#82bf6c","#ffffff","#b9bbbf","#e8363b","#000000","#777777","#d8dbe3","#8a8a8a"]}}}},
{"data":{"values":[{"i":162.41,"p":14690}]},"mark":{"type":"point","shape":"triangle-left","filled":true,"size":110,"color":"#e8363b","opacity":1},
"encoding":{"y":{"field":"p","type":"quantitative","axis":null,"scale":{"domain":[4420,27014],"nice":false,"zero":false}}}},
{"data":{"values":[{"i":3.02,"p":26386}]},"mark":{"type":"point","shape":"M0.45,-0.15A0.6,0.6 0 1 1 -0.75,-0.15A0.6,0.6 0 1 1 0.45,-0.15M0.28,0.3L0.8,0.85","size":320,"filled":false,"stroke":"#222222","strokeWidth":1.5,"opacity":1},
"encoding":{"y":{"field":"p","type":"quantitative","axis":null,"scale":{"domain":[4420,27014],"nice":false,"zero":false}}}},
{"data":{"values":[{"i":79.12,"p":26356}]},"mark":{"type":"point","shape":"M-0.9,0.2L-0.35,-0.25L0.05,0.05L0.7,-0.6M-0.9,-0.85L0.7,-0.85M-0.9,0.8L0.3,0.8M0.65,0.45L0.65,1M0.35,0.72L0.95,0.72","size":520,"filled":false,"stroke":"#555555","strokeWidth":1.2,"opacity":1},
"encoding":{"y":{"field":"p","type":"quantitative","axis":null,"scale":{"domain":[4420,27014],"nice":false,"zero":false}}}},
{"data":{"values":[{"i":164.37,"p":26355}]},"mark":{"type":"point","shape":"M0.25,-0.85L0.55,-0.55L-0.3,0.45L-0.55,0.5L-0.5,0.2ZM-0.75,0.85L0.6,0.85","size":350,"filled":false,"stroke":"#8a8a8a","strokeWidth":1,"opacity":1},
"encoding":{"y":{"field":"p","type":"quantitative","axis":null,"scale":{"domain":[4420,27014],"nice":false,"zero":false}}}},
{"data":{"name":"iconCandles"},"mark":{"type":"rule","strokeWidth":1},
"encoding":{"y":{"field":"high","type":"quantitative","axis":null,"scale":{"domain":[4420,27014],"nice":false,"zero":false}},"y2":{"field":"low"},
"color":{"condition":{"test":"datum.close>=datum.open","value":"#ee3338"},"value":"#0f7bee"}}},
{"data":{"name":"iconCandles"},"mark":{"type":"bar","width":3.5},
"encoding":{"y":{"field":"open","type":"quantitative","axis":null,"scale":{"domain":[4420,27014],"nice":false,"zero":false}},"y2":{"field":"close"},
"color":{"condition":{"test":"datum.close>=datum.open","value":"#ee3338"},"value":"#0f7bee"}}},
{"data":{"name":"closeButtons"},"mark":{"type":"circle","size":95,"color":"#f1f1f3","opacity":1},
"encoding":{"y":{"field":"p","type":"quantitative","axis":null,"scale":{"domain":[4420,27014],"nice":false,"zero":false}}}},
{"data":{"name":"closeButtons"},"mark":{"type":"text","text":"×","fontSize":9,"color":"#b5b8bd","align":"center","baseline":"middle"},
"encoding":{"y":{"field":"p","type":"quantitative","axis":null,"scale":{"domain":[4420,27014],"nice":false,"zero":false}}}},
{"data":{"name":"maLegend"},"mark":{"type":"text","align":"left","baseline":"middle","fontSize":10.5},
"encoding":{"y":{"field":"p","type":"quantitative","axis":null,"scale":{"domain":[4420,27014],"nice":false,"zero":false}},"text":{"field":"label"},
"color":{"field":"label","type":"nominal","legend":null,"scale":{"domain":["120","60","20","5","toolbar","strip","tag","underline","header","separator","baseline"],"range":["#b48cdc","#f3a75c","#ec7f7f","#82bf6c","#ffffff","#b9bbbf","#e8363b","#000000","#777777","#d8dbe3","#8a8a8a"]}}}},
{"data":{"name":"labels"},"transform":[{"filter":"datum.role=='menu'"}],"mark":{"type":"text","align":"center","baseline":"middle","fontSize":12,"color":"#5c5f63"},
"encoding":{"y":{"field":"p","type":"quantitative","axis":null,"scale":{"domain":[4420,27014],"nice":false,"zero":false}},"text":{"field":"label"}}},
{"data":{"name":"labels"},"transform":[{"filter":"datum.role=='active'"}],"mark":{"type":"text","align":"center","baseline":"middle","fontSize":13,"fontWeight":700,"color":"#000000"},
"encoding":{"y":{"field":"p","type":"quantitative","axis":null,"scale":{"domain":[4420,27014],"nice":false,"zero":false}},"text":{"field":"label"}}},
{"data":{"name":"labels"},"transform":[{"filter":"datum.role=='title'"}],"mark":{"type":"text","align":"left","baseline":"middle","fontSize":16,"fontWeight":700,"color":"#111111"},
"encoding":{"y":{"field":"p","type":"quantitative","axis":null,"scale":{"domain":[4420,27014],"nice":false,"zero":false}},"text":{"field":"label"}}},
{"data":{"name":"labels"},"transform":[{"filter":"datum.role=='chevron'"}],"mark":{"type":"text","align":"center","baseline":"middle","fontSize":8,"color":"#9a9da2"},
"encoding":{"y":{"field":"p","type":"quantitative","axis":null,"scale":{"domain":[4420,27014],"nice":false,"zero":false}},"text":{"field":"label"}}},
{"data":{"name":"labels"},"transform":[{"filter":"datum.role=='scale'"}],"mark":{"type":"text","align":"center","baseline":"middle","fontSize":9.5,"fontWeight":500,"color":"#222222"},
"encoding":{"y":{"field":"p","type":"quantitative","axis":null,"scale":{"domain":[4420,27014],"nice":false,"zero":false}},"text":{"field":"label"}}},
{"data":{"name":"labels"},"transform":[{"filter":"datum.role=='legend'"}],"mark":{"type":"text","align":"left","baseline":"middle","fontSize":11,"color":"#555555"},
"encoding":{"y":{"field":"p","type":"quantitative","axis":null,"scale":{"domain":[4420,27014],"nice":false,"zero":false}},"text":{"field":"label"}}},
{"data":{"name":"labels"},"transform":[{"filter":"datum.role=='legendDark'"}],"mark":{"type":"text","align":"left","baseline":"middle","fontSize":11,"fontWeight":500,"color":"#222222"},
"encoding":{"y":{"field":"p","type":"quantitative","axis":null,"scale":{"domain":[4420,27014],"nice":false,"zero":false}},"text":{"field":"label"}}},
{"data":{"name":"labels"},"transform":[{"filter":"datum.role=='legendMix'"}],"mark":{"type":"text","align":"left","baseline":"middle","fontSize":11,"color":"#444444"},
"encoding":{"y":{"field":"p","type":"quantitative","axis":null,"scale":{"domain":[4420,27014],"nice":false,"zero":false}},"text":{"field":"label"}}},
{"data":{"name":"labels"},"transform":[{"filter":"datum.role=='tagText'"}],"mark":{"type":"text","align":"left","baseline":"middle","fontSize":9,"fontWeight":700,"color":"#ffffff"},
"encoding":{"y":{"field":"p","type":"quantitative","axis":null,"scale":{"domain":[4420,27014],"nice":false,"zero":false}},"text":{"field":"label"}}},
{"data":{"name":"labels"},"transform":[{"filter":"datum.role=='marker'"}],"mark":{"type":"text","align":"right","baseline":"middle","fontSize":10.5,"color":"#444444"},
"encoding":{"y":{"field":"p","type":"quantitative","axis":null,"scale":{"domain":[4420,27014],"nice":false,"zero":false}},"text":{"field":"label"}}},
{"data":{"name":"labels"},"transform":[{"filter":"datum.role=='markerValue'"}],"mark":{"type":"text","align":"left","baseline":"middle","fontSize":10.5,"fontWeight":500,"color":"#111111"},
"encoding":{"y":{"field":"p","type":"quantitative","axis":null,"scale":{"domain":[4420,27014],"nice":false,"zero":false}},"text":{"field":"label"}}},
{"data":{"name":"labels"},"transform":[{"filter":"datum.role=='mark'"}],"mark":{"type":"text","align":"left","baseline":"middle","fontSize":16,"fontWeight":700,"color":"#000000","opacity":0.03},
"encoding":{"y":{"field":"p","type":"quantitative","axis":null,"scale":{"domain":[4420,27014],"nice":false,"zero":false}},"text":{"field":"label"}}},
{"data":{"name":"shades"},"mark":{"type":"rect","color":"#000000","opacity":0.2},
"encoding":{"x2":{"field":"i2"},"y":{"field":"p","type":"quantitative","axis":null,"scale":{"domain":[4420,27014],"nice":false,"zero":false}},"y2":{"field":"p2"}}}
]}
],
"resolve":{"scale":{"y":"independent"},"axis":{"y":"independent"}}
}
